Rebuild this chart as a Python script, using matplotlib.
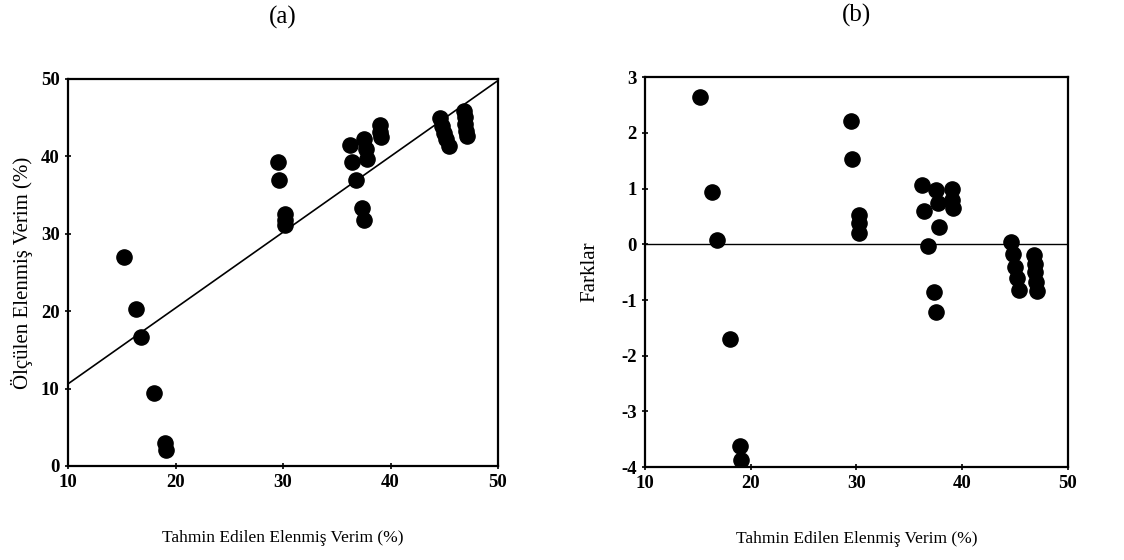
import matplotlib
matplotlib.use('Agg')
import matplotlib.pyplot as plt

plt.rcParams['font.family'] = ['Liberation Serif', 'DejaVu Serif']
plt.rcParams['axes.unicode_minus'] = False

# predicted yield (x), shared by both panels
tahmin = [15.2, 16.3, 16.8, 18.0, 19.0, 19.1,
          29.5, 29.6, 30.2, 30.2, 30.2,
          36.2, 36.4, 36.8, 37.3, 37.5, 37.5, 37.7, 37.8,
          39.0, 39.0, 39.1,
          44.6, 44.8, 45.0, 45.2, 45.4,
          46.8, 46.9, 46.9, 47.0, 47.1]
# measured yield (panel a)
olculen = [27.0, 20.3, 16.7, 9.4, 3.0, 2.1,
           39.3, 37.0, 32.6, 31.8, 31.1,
           41.5, 39.3, 37.0, 33.3, 31.8, 42.3, 41.0, 39.6,
           44.0, 43.2, 42.5,
           44.9, 43.9, 43.0, 42.3, 41.3,
           45.8, 45.1, 44.2, 43.3, 42.6]
# residuals (panel b)
farklar = [2.64, 0.94, 0.07, -1.70, -3.62, -3.87,
           2.22, 1.54, 0.53, 0.38, 0.20,
           1.07, 0.59, -0.03, -0.85, -1.21, 0.98, 0.74, 0.32,
           1.00, 0.80, 0.65,
           0.05, -0.17, -0.40, -0.60, -0.82,
           -0.20, -0.35, -0.50, -0.67, -0.83]

fit_x = [10, 50]
fit_y = [10.6, 49.8]
x_ticks = [10, 20, 30, 40, 50]
ya_ticks = [0, 10, 20, 30, 40, 50]
yb_ticks = [-4, -3, -2, -1, 0, 1, 2, 3]

x_label = 'Tahmin Edilen Elenmiş Verim (%)'

fig = plt.figure(figsize=(11.24, 5.6), dpi=100)
ax1 = fig.add_axes([0.0605, 0.168, 0.3826, 0.691])
ax2 = fig.add_axes([0.574, 0.166, 0.376, 0.696])


def style(ax):
  for s in ax.spines.values():
    s.set_linewidth(1.6)
  ax.tick_params(direction='inout', length=5, width=1.2, labelsize=13.5)
  for lab in ax.get_xticklabels() + ax.get_yticklabels():
    lab.set_fontweight('bold')


# (a)
ax1.plot(fit_x, fit_y, color='black', lw=1.2, zorder=2)
ax1.scatter(tahmin, olculen, s=120, color='black', zorder=3)
ax1.set_xlim(10, 50)
ax1.set_ylim(0, 50)
ax1.set_xticks(x_ticks)
ax1.set_yticks(ya_ticks)
ax1.set_xlabel(x_label, fontsize=12.5, labelpad=28)
ax1.set_ylabel('Ölçülen Elenmiş Verim (%)', fontsize=15, labelpad=6)
ax1.set_title('(a)', fontsize=18, pad=40)
style(ax1)

# (b)
ax2.axhline(0, color='black', lw=1.0, zorder=2)
ax2.scatter(tahmin, farklar, s=120, color='black', zorder=3)
ax2.set_xlim(10, 50)
ax2.set_ylim(-4, 3)
ax2.set_xticks(x_ticks)
ax2.set_yticks(yb_ticks)
ax2.set_xlabel(x_label, fontsize=12.5, labelpad=28)
ax2.set_ylabel('Farklar', fontsize=15, labelpad=16)
ax2.set_title('(b)', fontsize=18, pad=40)
style(ax2)

fig.savefig('out.png', dpi=100)
